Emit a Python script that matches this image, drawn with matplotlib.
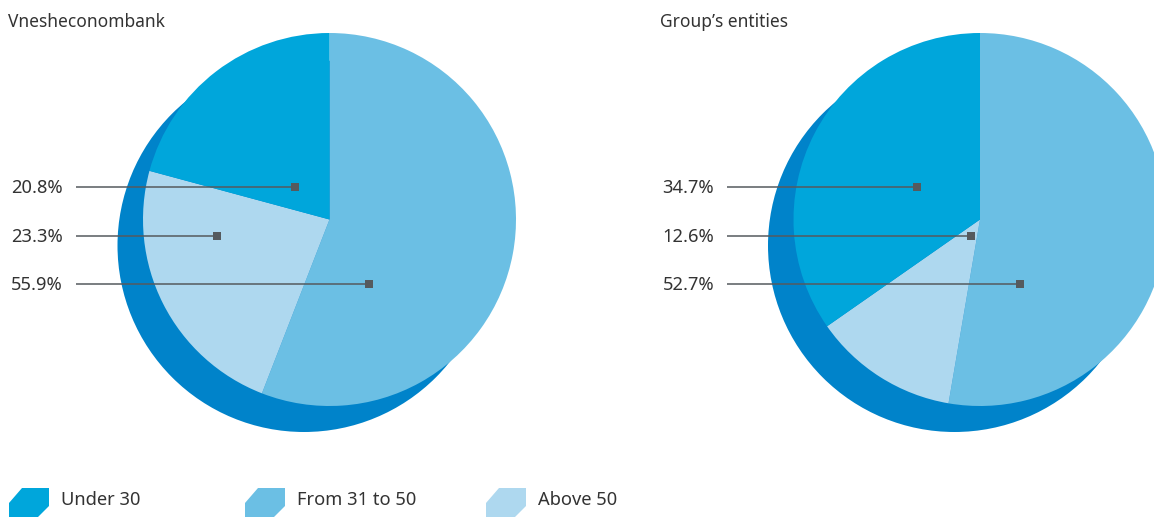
import matplotlib
matplotlib.use("Agg")
import matplotlib.pyplot as plt
from matplotlib.patches import Circle, Polygon

plt.rcParams['font.family'] = ['Noto Sans', 'DejaVu Sans']

# ---- data ----
categories = ["Under 30", "From 31 to 50", "Above 50"]
titles = ["Vnesheconombank", "Group\u2019s entities"]
veb_values = [20.8, 55.9, 23.3]
group_values = [34.7, 52.7, 12.6]
colors = ["#00A6DB", "#6BBFE4", "#AED8EF"]
shadow_color = "#0083CA"
text_color = "#333333"
line_color = "#555A5E"

W, H = 1154, 517
fig = plt.figure(figsize=(W / 100, H / 100), dpi=100)
ax = fig.add_axes([0, 0, 1, 1])

def Y(y):
    return H - y

FS_TITLE = 12.5
FS = 13.2

# layout (image pixel coordinates)
pies = [
    dict(values=veb_values, title=titles[0], cx=329.5, cy=219.5, title_x=8,
         label_x=63, line_x0=76,
         markers={0: (295, 187), 2: (217, 236), 1: (369, 284)}),
    dict(values=group_values, title=titles[1], cx=980, cy=219.5, title_x=660,
         label_x=714, line_x0=727,
         markers={0: (917, 187), 2: (971, 236), 1: (1020, 284)}),
]
R = 186.5
shadow_dx, shadow_dy = -25.5, 26
order = [1, 2, 0]  # clockwise from 12 o'clock

for p in pies:
    ax.add_patch(Circle((p["cx"] + shadow_dx, Y(p["cy"] + shadow_dy)), R,
                        facecolor=shadow_color, edgecolor="none", zorder=1))
    vals = [p["values"][i] for i in order]
    cols = [colors[i] for i in order]
    wedges, _ = ax.pie(vals, colors=cols, startangle=90, counterclock=False,
                       center=(p["cx"], Y(p["cy"])), radius=R, frame=True,
                       wedgeprops=dict(linewidth=0, zorder=2))
    for w in wedges:
        w.set_zorder(2)
    ax.text(p["title_x"], Y(22), p["title"], fontsize=FS_TITLE, color=text_color,
            ha="left", va="center")
    for idx, (mx, my) in p["markers"].items():
        ax.plot([p["line_x0"], mx], [Y(my), Y(my)], color=line_color, lw=1.1,
                solid_capstyle="butt", zorder=3)
        ax.plot([mx], [Y(my)], marker="s", markersize=5.5, color=line_color,
                markeredgewidth=0, zorder=4)
        ax.text(p["label_x"], Y(my + 1), f"{p['values'][idx]:.1f}%", fontsize=FS,
                color=text_color, ha="right", va="center")

# legend
legend_x = [9, 245, 486]
for x0, lab, col in zip(legend_x, categories, colors):
    pts = [(x0 + 13, 488), (x0 + 40, 488), (x0 + 40, 506), (x0 + 25, 521),
           (x0, 521), (x0, 503)]
    ax.add_patch(Polygon([(x, Y(y)) for x, y in pts], closed=True,
                         facecolor=col, edgecolor="none", zorder=2))
    ax.text(x0 + 52, Y(500), lab, fontsize=FS, color=text_color,
            ha="left", va="center")

ax.set_xlim(0, W)
ax.set_ylim(0, H)
ax.set_aspect("equal", adjustable="box")
ax.axis("off")
fig.savefig("out.png", dpi=100)
